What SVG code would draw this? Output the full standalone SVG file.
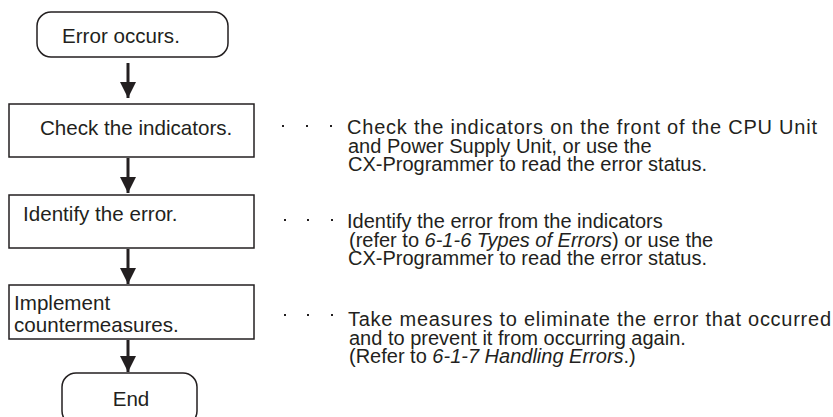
<svg xmlns="http://www.w3.org/2000/svg" width="833" height="417" viewBox="0 0 833 417">
<defs>
<marker id="ah" viewBox="0 0 10 10" refX="10" refY="5" markerWidth="5.5" markerHeight="5.5" markerUnits="strokeWidth" orient="auto">
<path d="M0,0 L10,5 L0,10 Z" fill="#231f20"/>
</marker>
<style>
.t{font-family:"Liberation Sans",Arial,sans-serif;font-size:20.6px;fill:#231f20}
.n{font-family:"Liberation Sans",Arial,sans-serif;font-size:20px;fill:#231f20}
.box{fill:#fff;stroke:#231f20;stroke-width:1.5}
.arr{stroke:#231f20;stroke-width:3;fill:none}
.dot{fill:#231f20}
.it{font-style:italic}
</style>
</defs>
<rect width="833" height="417" fill="#fff"/>
<g id="connectors">
<line class="arr" x1="128" y1="63" x2="128" y2="98" marker-end="url(#ah)"/>
<line class="arr" x1="128" y1="158" x2="128" y2="193" marker-end="url(#ah)"/>
<line class="arr" x1="128" y1="249" x2="128" y2="284" marker-end="url(#ah)"/>
<line class="arr" x1="128" y1="340" x2="128" y2="372" marker-end="url(#ah)"/>
</g>
<g id="start">
<rect class="box" x="37" y="12" width="191" height="45" rx="14"/>
<text class="t" x="62" y="43">Error occurs.</text>
</g>
<g id="check">
<rect class="box" x="9" y="104" width="245" height="53"/>
<text class="t" x="40" y="135">Check the indicators.</text>
</g>
<g id="identify">
<rect class="box" x="9" y="195" width="245" height="53"/>
<text class="t" x="23" y="221">Identify the error.</text>
</g>
<g id="implement">
<rect class="box" x="9" y="285" width="245" height="54"/>
<text class="t" x="14" y="310">Implement</text>
<text class="t" x="14" y="332">countermeasures.</text>
</g>
<g id="end">
<rect class="box" x="62" y="373" width="135" height="52" rx="14"/>
<text class="t" x="131" y="406" text-anchor="middle">End</text>
</g>
<g id="note-check">
<rect class="dot" x="282" y="125" width="2" height="2"/>
<rect class="dot" x="306" y="125" width="2" height="2"/>
<rect class="dot" x="330" y="125" width="2" height="2"/>
<text class="n" x="347" y="134" textLength="470" lengthAdjust="spacing">Check the indicators on the front of the CPU Unit</text>
<text class="n" x="348" y="152.5">and Power Supply Unit, or use the</text>
<text class="n" x="348" y="171">CX-Programmer to read the error status.</text>
</g>
<g id="note-identify">
<rect class="dot" x="284" y="219" width="2" height="2"/>
<rect class="dot" x="307" y="219" width="2" height="2"/>
<rect class="dot" x="331" y="219" width="2" height="2"/>
<text class="n" x="347" y="228">Identify the error from the indicators</text>
<text class="n" x="349" y="246.5">(refer to <tspan class="it">6-1-6 Types of Errors</tspan>) or use the</text>
<text class="n" x="348" y="265">CX-Programmer to read the error status.</text>
</g>
<g id="note-implement">
<rect class="dot" x="284" y="314" width="2" height="2"/>
<rect class="dot" x="307" y="314" width="2" height="2"/>
<rect class="dot" x="331" y="314" width="2" height="2"/>
<text class="n" x="348" y="326" textLength="483" lengthAdjust="spacing">Take measures to eliminate the error that occurred</text>
<text class="n" x="349" y="344.5">and to prevent it from occurring again.</text>
<text class="n" x="349" y="363">(Refer to <tspan class="it">6-1-7 Handling Errors</tspan>.)</text>
</g>
</svg>
